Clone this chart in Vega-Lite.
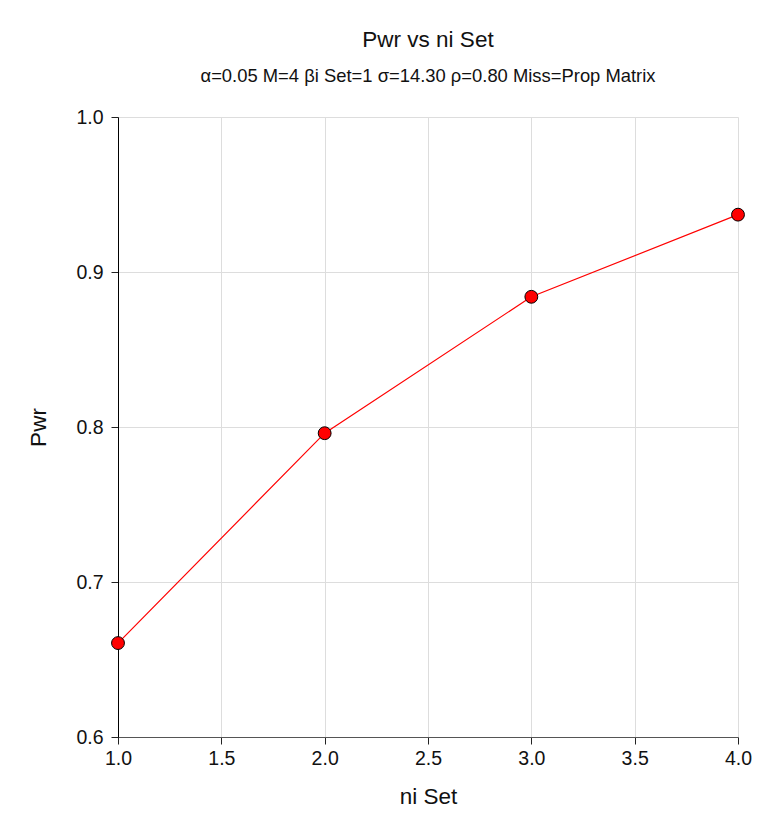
{
  "$schema": "https://vega.github.io/schema/vega-lite/v6.json",
  "autosize": "none",
  "width": 620,
  "height": 620,
  "padding": {"left": 118, "top": 117, "right": 27, "bottom": 95},
  "background": "white",
  "config": {
    "font": "Liberation Sans",
    "view": {"stroke": null},
    "axis": {
      "labelFont": "Liberation Sans",
      "titleFont": "Liberation Sans",
      "labelFontSize": 19.5,
      "titleFontSize": 22.5,
      "labelColor": "#111",
      "titleColor": "#111",
      "titleFontWeight": "normal",
      "gridColor": "#dddddd",
      "ticks": true,
      "tickSize": 7,
      "tickWidth": 1,
      "tickColor": "#222",
      "labelFlush": false
    }
  },
  "title": {
    "text": "Pwr vs ni Set",
    "subtitle": "α=0.05 M=4 βi Set=1 σ=14.30 ρ=0.80 Miss=Prop Matrix",
    "font": "Liberation Sans",
    "fontSize": 22.5,
    "fontWeight": "normal",
    "subtitleFont": "Liberation Sans",
    "subtitleFontSize": 18.4,
    "subtitlePadding": 15,
    "color": "#111",
    "subtitleColor": "#111",
    "anchor": "middle",
    "offset": 22
  },
  "data": {
    "values": [
      {"n": 1, "pwr": 0.6606},
      {"n": 2, "pwr": 0.796},
      {"n": 3, "pwr": 0.884},
      {"n": 4, "pwr": 0.937}
    ]
  },
  "encoding": {
    "x": {
      "field": "n",
      "type": "quantitative",
      "title": "ni Set",
      "scale": {"domain": [1, 4], "nice": false, "zero": false},
      "axis": {"values": [1, 1.5, 2, 2.5, 3, 3.5, 4], "format": ".1f", "domainColor": "#555", "ticks": true, "labelPadding": 5, "titlePadding": 18}
    },
    "y": {
      "field": "pwr",
      "type": "quantitative",
      "title": "Pwr",
      "scale": {"domain": [0.6, 1.0], "nice": false, "zero": false},
      "axis": {"values": [0.6, 0.7, 0.8, 0.9, 1.0], "format": ".1f", "domainColor": "#000", "ticks": true, "labelPadding": 8, "titlePadding": 25}
    }
  },
  "layer": [
    {"mark": {"type": "line", "color": "#ff0000", "strokeWidth": 1.2}},
    {"mark": {"type": "point", "filled": true, "fill": "#ff0000", "stroke": "#000", "strokeWidth": 1, "size": 165, "opacity": 1}}
  ]
}
